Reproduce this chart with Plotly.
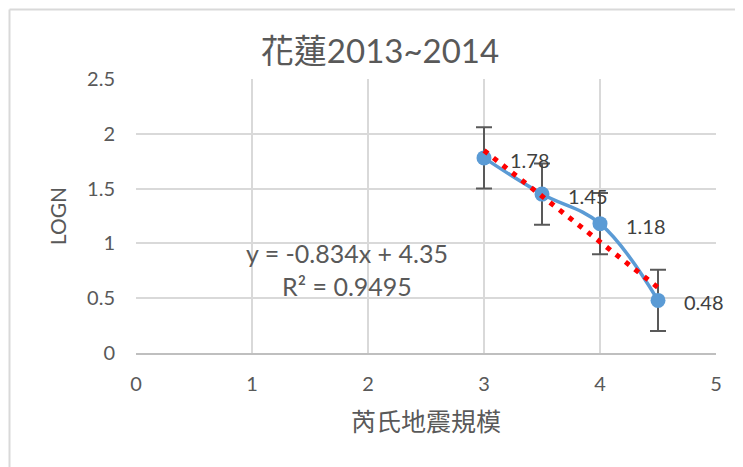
import numpy as np
import plotly.graph_objects as go

magnitude = [3, 3.5, 4, 4.5]
logn = [1.78, 1.45, 1.18, 0.48]
err = [0.28, 0.28, 0.28, 0.28]
labels = ["1.78", "1.45", "1.18", "0.48"]
title = "花蓮2013~2014"
x_title = "芮氏地震規模"
y_title = "LOGN"

slope, intercept = np.polyfit(magnitude, logn, 1)
ss_res = sum((y - (slope * x + intercept)) ** 2 for x, y in zip(magnitude, logn))
ym = np.mean(logn)
ss_tot = sum((y - ym) ** 2 for y in logn)
r2 = 1 - ss_res / ss_tot

FONT = "Lato, 'Noto Sans CJK TC', sans-serif"
CJK = "'Noto Sans CJK TC', sans-serif"
GRAY = "#595959"
BLUE = "#5B9BD5"

fig = go.Figure()
trend_x = [magnitude[0], magnitude[-1]]
trend_y = [slope * x + intercept for x in trend_x]
fig.add_trace(go.Scatter(
    x=magnitude, y=logn, mode="lines+markers",
    line=dict(color=BLUE, width=3.5, shape="spline", smoothing=1.1),
    marker=dict(color=BLUE, size=15),
    error_y=dict(type="data", array=err, visible=True, color="#595959", thickness=2, width=8),
    showlegend=False,
))
fig.add_trace(go.Scatter(
    x=trend_x, y=trend_y, mode="lines",
    line=dict(color="#FF0000", width=5, dash="5px,7px"),
    showlegend=False,
))

for xv, yv, lab in zip(magnitude, logn, labels):
    fig.add_annotation(x=xv, y=yv, xref="x", yref="y", text=lab, showarrow=False,
                       xanchor="left", yanchor="middle", xshift=24, yshift=-2,
                       font=dict(family=FONT, size=20, color="#404040"))

fig.add_annotation(
    x=1.815, y=0.762, xref="x", yref="y", showarrow=False,
    text=f"y = {slope:.3f}x + {intercept:.2f}<br>R² = {r2:.4f}",
    font=dict(family=FONT, size=25, color=GRAY), align="center",
)

bx0 = (9.5 - 136) / 580
by1 = (353 - 9.5) / 274
fig.add_shape(type="line", xref="paper", yref="paper",
              x0=bx0, x1=(745 - 136) / 580, y0=by1, y1=by1,
              line=dict(color="#D9D9D9", width=2))
fig.add_shape(type="line", xref="paper", yref="paper",
              x0=bx0, x1=bx0, y0=by1, y1=(353 - 470) / 274,
              line=dict(color="#D9D9D9", width=2))

fig.update_layout(
    width=743, height=467,
    margin=dict(l=128, r=35, t=71, b=122),
    paper_bgcolor="white", plot_bgcolor="white",
    title=dict(text=title, x=(380 - 8) / 743, xanchor="center", y=1 - 43 / 467, yanchor="middle",
               yref="container", xref="container",
               font=dict(family=FONT, size=33, color=GRAY)),
    xaxis=dict(range=[0, 5], dtick=1, showgrid=True, gridcolor="#D9D9D9", gridwidth=1.5,
               zeroline=False, showline=True, linecolor="#BFBFBF", linewidth=1.5,
               tickfont=dict(family=FONT, size=20, color=GRAY), ticks="", ticklabelstandoff=12,
               title=dict(text=x_title, font=dict(family=CJK, size=25, color=GRAY), standoff=20)),
    yaxis=dict(range=[0, 2.5], dtick=0.5, showgrid=True, gridcolor="#D9D9D9", gridwidth=1.5,
               zeroline=False, showline=False,
               tickfont=dict(family=FONT, size=20, color=GRAY), ticks="", ticklabelstandoff=20,
               title=dict(text=y_title, font=dict(family=FONT, size=21, color=GRAY), standoff=14)),
)
fig.write_html("out.html")
